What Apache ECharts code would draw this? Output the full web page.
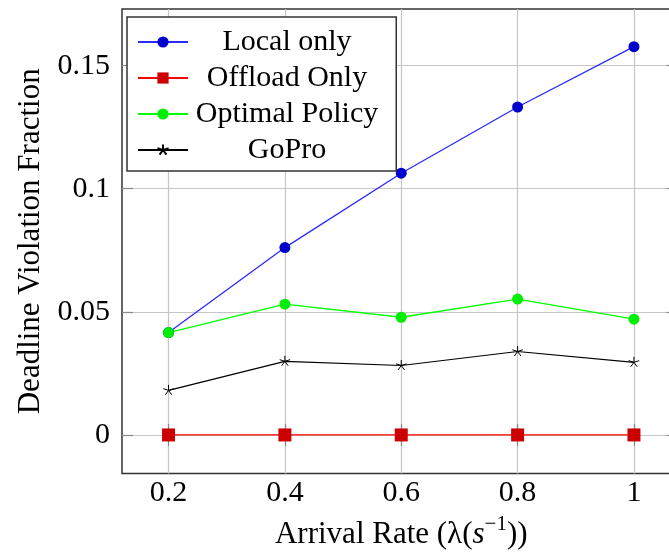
<!DOCTYPE html>
<html>
<head>
<meta charset="utf-8">
<script src="https://cdn.jsdelivr.net/npm/echarts@6/dist/echarts.min.js"></script>
<style>
  html, body { margin: 0; padding: 0; background: #fff; overflow: hidden; }
  #chart { width: 681px; height: 555px; }
</style>
</head>
<body>
<div id="chart"></div>
<script>
// ---- data ----
const arrivalRates   = [0.2, 0.4, 0.6, 0.8, 1.0];
const localOnly      = [0.0416, 0.0761, 0.1063, 0.1332, 0.1577];
const offloadOnly    = [0, 0, 0, 0, 0];
const optimalPolicy  = [0.0416, 0.0531, 0.0478, 0.0552, 0.0470];
const goPro          = [0.0181, 0.0299, 0.0282, 0.0339, 0.0295];
const seriesNames    = ['Local only', 'Offload Only', 'Optimal Policy', 'GoPro'];
const xTickValues    = [0.2, 0.4, 0.6, 0.8, 1];
const yTickValues    = [0, 0.05, 0.1, 0.15];
const xAxisTitle     = 'Arrival Rate';
const yAxisTitle     = 'Deadline Violation Fraction';

const FONT = 'Liberation Serif';
const FS = 30;

function pairs(ys) { return arrivalRates.map((x, i) => [x, ys[i]]); }

const starPath = 'path://M0,0L0,-1M0,0L0.951,-0.309M0,0L0.588,0.809M0,0L-0.588,0.809M0,0L-0.951,-0.309M0,1M0,-1';

const chart = echarts.init(document.getElementById('chart'), null, { renderer: 'canvas' });

const option = {
  animation: false,
  backgroundColor: '#ffffff',
  grid: {
    left: 122, top: 9, right: 0.5, bottom: 81.4,
    show: true, borderColor: '#333333', borderWidth: 1.5, backgroundColor: 'transparent'
  },
  legend: {
    left: 127, top: 17, orient: 'vertical',
    selectedMode: false,
    backgroundColor: '#ffffff',
    borderColor: '#333333', borderWidth: 1.5,
    padding: [10, 18, 6, 10],
    itemWidth: 50, itemHeight: 14, itemGap: 6,
    data: seriesNames,
    formatter: name => '{a|' + name + '}',
    textStyle: {
      color: '#000', fontFamily: FONT, fontSize: FS,
      rich: { a: { width: 188, align: 'center', fontFamily: FONT, fontSize: FS, color: '#000' } }
    }
  },
  xAxis: [{
    type: 'value', min: 0.12, max: 1.08,
    position: 'bottom',
    name: '{n|' + xAxisTitle + ' (}{g|λ}{n|(}{i|s}{sup|−1}{n|))}',
    nameLocation: 'middle', nameGap: 33,
    nameTextStyle: {
      rich: {
        n: { fontFamily: FONT, fontSize: 31, lineHeight: 42, color: '#000' },
        g: { fontFamily: FONT, fontSize: 31, lineHeight: 42, color: '#000' },
        i: { fontFamily: FONT, fontSize: 31, fontStyle: 'italic', lineHeight: 42, color: '#000' },
        sup: { fontFamily: FONT, fontSize: 21, lineHeight: 18, verticalAlign: 'top', color: '#000' }
      }
    },
    axisLine: { show: false },
    axisTick: { show: true, inside: true, length: 11, customValues: xTickValues, lineStyle: { color: '#888', width: 1.2 } },
    axisLabel: {
      show: true, customValues: xTickValues, margin: 5,
      fontFamily: FONT, fontSize: FS, color: '#000',
      formatter: v => String(+v.toFixed(2))
    },
    splitLine: { show: true, lineStyle: { color: '#c6c6c6', width: 1.2 } }
  }, {
    type: 'value', min: 0.12, max: 1.08, position: 'top',
    axisLine: { show: false },
    axisTick: { show: true, inside: true, length: 11, customValues: xTickValues, lineStyle: { color: '#888', width: 1.2 } },
    axisLabel: { show: false, customValues: xTickValues },
    splitLine: { show: false }
  }],
  yAxis: [{
    type: 'value', min: -0.0157, max: 0.173,
    position: 'left',
    name: yAxisTitle,
    nameLocation: 'middle', nameGap: 70,
    nameTextStyle: { fontFamily: FONT, fontSize: 31, color: '#000' },
    axisLine: { show: false },
    axisTick: { show: true, inside: true, length: 11, customValues: yTickValues, lineStyle: { color: '#888', width: 1.2 } },
    axisLabel: {
      show: true, customValues: yTickValues, margin: 12,
      fontFamily: FONT, fontSize: FS, color: '#000',
      formatter: v => String(+v.toFixed(3))
    },
    splitLine: { show: true, lineStyle: { color: '#c6c6c6', width: 1.2 } }
  }, {
    type: 'value', min: -0.0157, max: 0.173, position: 'right',
    axisLine: { show: false },
    axisTick: { show: true, inside: true, length: 14, customValues: yTickValues, lineStyle: { color: '#888', width: 1.2 } },
    axisLabel: { show: false, customValues: yTickValues },
    splitLine: { show: false }
  }],
  series: [
    {
      name: seriesNames[0], type: 'line', data: pairs(localOnly),
      xAxisIndex: 0, yAxisIndex: 0,
      symbol: 'circle', symbolSize: 11,
      lineStyle: { color: '#2a2aff', width: 1.3 },
      itemStyle: { color: '#0000cc' }
    },
    {
      name: seriesNames[1], type: 'line', data: pairs(offloadOnly),
      xAxisIndex: 0, yAxisIndex: 0,
      symbol: 'rect', symbolSize: 13,
      lineStyle: { color: '#ff0000', width: 1.3 },
      itemStyle: { color: '#cc0000' }
    },
    {
      name: seriesNames[2], type: 'line', data: pairs(optimalPolicy),
      xAxisIndex: 0, yAxisIndex: 0,
      symbol: 'circle', symbolSize: 11,
      lineStyle: { color: '#00ff00', width: 1.3 },
      itemStyle: { color: '#00ee00' }
    },
    {
      name: seriesNames[3], type: 'line', data: pairs(goPro),
      xAxisIndex: 0, yAxisIndex: 0,
      symbol: starPath, symbolSize: 11, symbolKeepAspect: true,
      lineStyle: { color: '#000000', width: 1.2 },
      itemStyle: { color: '#000000', borderColor: '#000000', borderWidth: 1 }
    }
  ]
};

chart.setOption(option);
</script>
</body>
</html>
